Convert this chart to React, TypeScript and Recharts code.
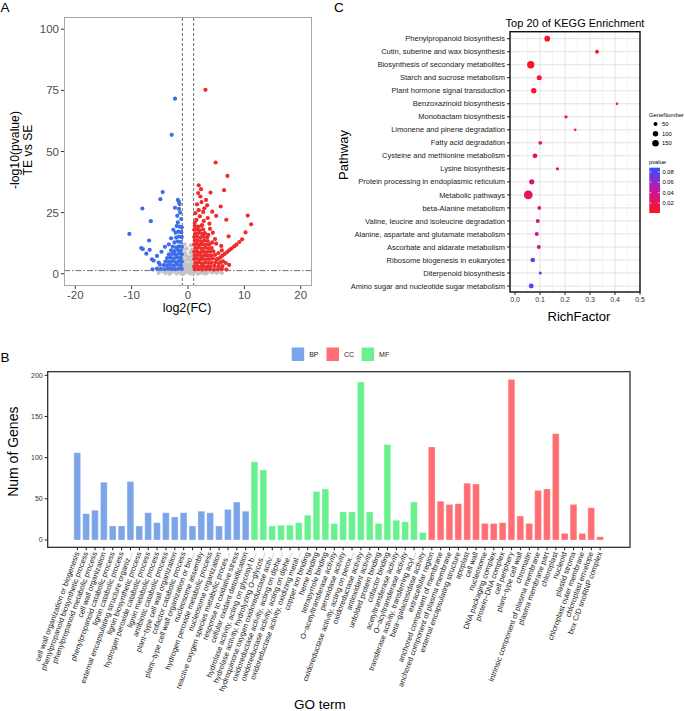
import React from "react";
import {
  ScatterChart,
  Scatter,
  BarChart,
  Bar,
  Cell,
  XAxis,
  YAxis,
  ZAxis,
  CartesianGrid,
  ReferenceLine,
} from "recharts";

const FONT = '"Liberation Sans", Arial, Helvetica, sans-serif';

// ---------- Panel A: volcano (log2FC, -log10 p) ----------
const upPoints: [number, number][] = [
  [3.1, 75.2], [4.9, 45.5], [7.0, 40.0], [1.9, 36.2], [2.3, 34.6], [1.8, 33.0], [4.0, 33.2], [6.4, 34.2],
  [2.2, 31.6], [3.2, 30.2], [2.4, 29.3], [3.4, 28.0], [5.8, 27.5], [1.9, 26.0], [2.7, 25.3], [4.3, 25.4],
  [5.0, 23.7], [10.6, 23.8], [6.8, 22.1], [11.2, 20.2], [10.2, 16.9], [7.2, 15.3], [1.5, 22.0], [2.1, 23.5],
  [1.3, 24.8], [2.8, 21.6], [3.5, 22.8], [1.6, 28.4], [2.9, 26.8], [3.8, 20.5], [1.2, 20.8], [2.5, 19.9],
  [9.6, 14.1], [9.1, 13.0], [8.6, 11.9], [8.2, 11.2], [7.7, 10.3], [7.3, 9.6], [6.9, 8.8], [6.5, 8.1],
  [6.1, 7.4], [5.7, 6.7], [5.3, 6.0], [5.9, 11.4], [4.8, 14.2], [4.4, 16.8], [3.9, 18.4], [6.2, 5.1],
  [6.7, 4.4], [7.3, 3.6], [5.5, 4.3], [5.0, 12.3], [4.3, 12.8], [3.6, 15.9], [6.0, 9.6], [5.4, 8.5],
  [1.2, 19.5], [1.8, 19.3], [2.4, 19.6],
  [1.1, 18.0], [1.6, 18.2], [2.1, 17.8], [2.7, 18.1],
  [1.3, 16.5], [1.9, 16.7], [2.5, 16.3], [3.0, 16.6],
  [1.1, 15.0], [1.6, 15.2], [2.2, 14.8], [2.8, 15.1], [3.4, 14.9],
  [1.2, 13.5], [1.7, 13.7], [2.3, 13.3], [2.9, 13.6], [3.5, 13.4],
  [1.1, 12.0], [1.6, 12.2], [2.1, 11.8], [2.6, 12.1], [3.2, 11.9], [3.8, 12.0],
  [1.3, 10.5], [1.8, 10.7], [2.4, 10.3], [3.0, 10.6], [3.6, 10.4], [4.2, 10.5],
  [1.1, 9.0], [1.6, 9.2], [2.2, 8.8], [2.7, 9.1], [3.3, 8.9], [3.9, 9.0], [4.5, 9.2],
  [1.2, 7.5], [1.7, 7.7], [2.3, 7.3], [2.9, 7.6], [3.5, 7.4], [4.1, 7.5], [4.8, 7.7],
  [1.1, 6.0], [1.6, 6.2], [2.1, 5.8], [2.6, 6.1], [3.2, 5.9], [3.8, 6.0], [4.4, 6.2], [5.1, 5.9],
  [1.3, 4.5], [1.8, 4.7], [2.4, 4.3], [3.0, 4.6], [3.6, 4.4], [4.2, 4.5], [4.9, 4.7], [5.9, 4.9],
  [1.1, 3.0], [1.6, 3.2], [2.2, 2.8], [2.8, 3.1], [3.4, 2.9], [4.0, 3.0], [4.7, 3.2], [5.4, 2.9], [6.1, 3.1],
  [1.2, 1.8], [1.8, 1.9], [2.5, 1.7], [3.2, 1.8], [3.9, 1.9], [4.6, 1.7], [5.3, 1.8], [6.0, 1.9], [6.8, 1.7],
];

const downPoints: [number, number][] = [
  [-2.3, 71.6], [-2.9, 56.8], [-4.5, 33.4], [-4.9, 30.5], [-8.1, 26.7], [-1.8, 30.2], [-1.6, 29.4], [-1.5, 28.5],
  [-2.3, 27.0], [-1.9, 23.7], [-6.6, 21.5], [-1.8, 21.0], [-10.4, 16.3], [-6.9, 13.6], [-8.3, 10.5], [-8.0, 10.1],
  [-6.8, 9.8], [-4.1, 11.0], [-7.4, 8.2], [-6.4, 5.9], [-6.1, 5.4], [-5.5, 7.3], [-1.4, 25.0], [-1.2, 22.4],
  [-2.6, 18.0], [-3.0, 14.5], [-3.4, 12.0], [-2.0, 19.5], [-1.6, 26.5], [-4.7, 9.0], [-5.2, 4.6],
  [-1.1, 19.0], [-1.5, 19.3],
  [-1.2, 17.0], [-1.7, 17.2], [-2.2, 16.8],
  [-1.1, 15.0], [-1.6, 15.2], [-2.1, 14.8],
  [-1.3, 13.0], [-1.8, 13.2], [-2.4, 12.8],
  [-1.1, 11.0], [-1.6, 11.2], [-2.1, 10.8], [-2.7, 11.1],
  [-1.3, 9.5], [-1.8, 9.7], [-2.4, 9.3], [-3.0, 9.6],
  [-1.1, 8.0], [-1.6, 8.2], [-2.2, 7.8], [-2.8, 8.1], [-3.4, 7.9],
  [-1.3, 6.5], [-1.9, 6.7], [-2.5, 6.3], [-3.1, 6.6], [-3.7, 6.4],
  [-1.1, 5.0], [-1.6, 5.2], [-2.2, 4.8], [-2.8, 5.1], [-3.4, 4.9], [-4.0, 5.0],
  [-1.3, 3.5], [-1.9, 3.7], [-2.5, 3.3], [-3.1, 3.6], [-3.7, 3.4], [-4.3, 3.5], [-5.0, 3.7],
  [-1.1, 2.0], [-1.7, 2.1], [-2.3, 1.9], [-2.9, 2.0], [-3.5, 2.1], [-4.1, 1.9], [-4.8, 2.0], [-5.5, 2.1], [-6.3, 1.8],
];

const nsPoints: [number, number][] = [
  [-0.6, 12.0], [0.5, 11.6], [-0.8, 10.0], [-0.2, 10.3], [0.7, 9.8], [-0.5, 8.5], [0.4, 8.7], [0.9, 8.3],
  [-0.9, 7.0], [-0.3, 7.2], [0.3, 6.8], [0.8, 7.1], [-0.7, 5.5], [-0.1, 5.7], [0.5, 5.4], [-0.9, 4.0],
  [-0.4, 4.2], [0.2, 3.9], [0.7, 4.1], [-0.8, 2.8], [-0.3, 3.0], [0.3, 2.7], [0.8, 2.9], [-1.5, 1.2],
  [-0.6, 1.8], [0.0, 1.9], [0.6, 1.7], [1.4, 1.1],
  [-4.5, 1.0], [-3.5, 0.9], [-2.6, 1.1], [-1.8, 0.8], [-1.0, 1.0], [-0.4, 0.9], [0.3, 1.1], [1.1, 0.8],
  [1.9, 1.0], [2.8, 0.9], [3.7, 1.1], [4.6, 0.8], [5.5, 1.0],
  [-5.2, 0.4], [-4.0, 0.3], [-3.0, 0.5], [-2.1, 0.4], [-1.3, 0.3], [-0.5, 0.5], [0.2, 0.4], [0.9, 0.3],
  [1.6, 0.5], [2.4, 0.4], [3.3, 0.3], [4.2, 0.5], [5.1, 0.4], [6.0, 0.3],
  [-3.3, 0.05], [-2.0, 0.1], [-0.8, 0.0], [0.5, 0.1], [1.8, 0.0], [3.0, 0.1],
];

const volcanoXTicks = [-20, -10, 0, 10, 20];
const volcanoYTicks = [0, 25, 50, 75, 100];
const fcCutoffs = [-1, 1];
const pCutoff = 1.3;

// ---------- Panel B: GO terms ----------
const bpTerms = [
  "cell wall organization or biogenesis",
  "phenylpropanoid biosynthetic process",
  "phenylpropanoid metabolic process",
  "cell wall organization",
  "phenylpropanoid catabolic process",
  "lignin catabolic process",
  "external encapsulating structure organiz...",
  "lignin biosynthetic process",
  "hydrogen peroxide catabolic process",
  "lignin metabolic process",
  "antibiotic catabolic process",
  "plant\u2212type cell wall organization",
  "cofactor catabolic process",
  "plant\u2212type cell wall organization or bio...",
  "nucleosome assembly",
  "hydrogen peroxide metabolic process",
  "nucleosome organization",
  "reactive oxygen species metabolic proces...",
  "response to oxidative stress",
  "cellular oxidant detoxification",
];
const bpCounts = [106, 32, 36, 70, 17, 17, 71, 17, 33, 21, 33, 28, 33, 17, 35, 33, 17, 37, 46, 35];

const mfTerms = [
  "hydrolase activity, acting on glycosyl b...",
  "hydrolase activity, hydrolyzing O\u2212glycos...",
  "hydroquinone:oxygen oxidoreductase activ...",
  "oxidoreductase activity, acting on diphe...",
  "oxidoreductase activity, acting on diphe...",
  "oxidoreductase activity, oxidizing metal...",
  "copper ion binding",
  "heme binding",
  "tetrapyrrole binding",
  "O\u2212acetyltransferase activity",
  "peroxidase activity",
  "oxidoreductase activity, acting on perox...",
  "oxidoreductase activity",
  "antioxidant activity",
  "unfolded protein binding",
  "cofactor binding",
  "acetyltransferase activity",
  "O\u2212acyltransferase activity",
  "transferase activity, transferring acyl...",
  "beta\u2212galactosidase activity",
];
const mfCounts = [95, 85, 17, 18, 18, 21, 30, 59, 62, 20, 34, 34, 192, 34, 20, 116, 24, 22, 46, 9];

const ccTerms = [
  "extracellular region",
  "anchored component of membrane",
  "anchored component of plasma membrane",
  "external encapsulating structure",
  "apoplast",
  "cell wall",
  "nucleosome",
  "DNA packaging complex",
  "protein\u2212DNA complex",
  "cell periphery",
  "plant\u2212type cell wall",
  "chromatin",
  "intrinsic component of plasma membrane",
  "plasma membrane part",
  "chloroplast",
  "nucleoid",
  "plastid stroma",
  "chloroplast outer membrane",
  "chloroplast envelope",
  "box C/D snoRNP complex",
];
const ccCounts = [113, 47, 43, 44, 69, 68, 20, 20, 21, 195, 29, 20, 60, 62, 129, 8, 43, 8, 39, 4];

const goGroups = ["BP", "CC", "MF"];
const goColors: Record<string, string> = { BP: "#7BA5E8", CC: "#FF6E73", MF: "#69F08F" };
const goYTicks = [0, 50, 100, 150, 200];

// ---------- Panel C: KEGG ----------
const pathways = [
  "Phenylpropanoid biosynthesis",
  "Cutin, suberine and wax biosynthesis",
  "Biosynthesis of secondary metabolites",
  "Starch and sucrose metabolism",
  "Plant hormone signal transduction",
  "Benzoxazinoid biosynthesis",
  "Monobactam biosynthesis",
  "Limonene and pinene degradation",
  "Fatty acid degradation",
  "Cysteine and methionine metabolism",
  "Lysine biosynthesis",
  "Protein processing in endoplasmic reticulum",
  "Metabolic pathways",
  "beta-Alanine metabolism",
  "Valine, leucine and isoleucine degradation",
  "Alanine, aspartate and glutamate metabolism",
  "Ascorbate and aldarate metabolism",
  "Ribosome biogenesis in eukaryotes",
  "Diterpenoid biosynthesis",
  "Amino sugar and nucleotide sugar metabolism",
];
const richFactor = [0.129, 0.328, 0.063, 0.097, 0.075, 0.408, 0.204, 0.241, 0.101, 0.08, 0.17, 0.067, 0.053, 0.097, 0.091, 0.087, 0.095, 0.071, 0.101, 0.065];
const geneNumber = [110, 45, 187, 85, 95, 14, 30, 16, 45, 75, 28, 90, 270, 45, 50, 50, 50, 70, 25, 75];
const pValue = [0.003, 0.004, 0.002, 0.004, 0.005, 0.006, 0.01, 0.01, 0.012, 0.013, 0.016, 0.03, 0.025, 0.033, 0.038, 0.042, 0.037, 0.072, 0.082, 0.079];
const richTicks = [0, 0.1, 0.2, 0.3, 0.4, 0.5];
const richMinor = [0.05, 0.15, 0.25, 0.35, 0.45];
const sizeLegend = [50, 100, 150];
const pLegend = [0.08, 0.06, 0.04, 0.02];

const P_MIN = 0.001;
const P_MAX = 0.088;
const Z_DOMAIN = [0, 300];
const Z_RANGE = [1.7, 66.8];

const colorStops = [
  [255, 20, 30],
  [200, 20, 160],
  [50, 80, 255],
];
const pColor = (p: number) => {
  const t = Math.min(1, Math.max(0, (p - P_MIN) / (P_MAX - P_MIN)));
  const seg = t < 0.5 ? 0 : 1;
  const lt = seg === 0 ? t / 0.5 : (t - 0.5) / 0.5;
  const a = colorStops[seg];
  const b = colorStops[seg + 1];
  const c = a.map((v, i) => Math.round(v + (b[i] - v) * lt));
  return `rgb(${c[0]},${c[1]},${c[2]})`;
};
const dotRadius = (n: number) => {
  const area = Z_RANGE[0] + ((Z_RANGE[1] - Z_RANGE[0]) * (n - Z_DOMAIN[0])) / (Z_DOMAIN[1] - Z_DOMAIN[0]);
  return Math.sqrt(area / Math.PI);
};

const toXY = (pts: [number, number][]) => pts.map(([x, y]) => ({ x, y }));

const dot = (color: string) => (p: any) => <circle cx={p.cx} cy={p.cy} r={2.1} fill={color} />;

const VolcanoChart = () => {
  const tick = { fontSize: 11.5, fill: "#4d4d4d", fontFamily: FONT };
  return (
    <ScatterChart width={330} height={330} margin={{ top: 17, right: 18, bottom: 14, left: 30 }}>
      <XAxis
        type="number"
        dataKey="x"
        domain={[-22, 22]}
        ticks={volcanoXTicks}
        allowDataOverflow
        axisLine={false}
        tickSize={3}
        tickLine={{ stroke: "#333" }}
        tick={tick}
        height={30}
      />
      <YAxis
        type="number"
        dataKey="y"
        domain={[-5, 105]}
        ticks={volcanoYTicks}
        allowDataOverflow
        axisLine={false}
        tickSize={3}
        tickLine={{ stroke: "#333" }}
        tick={tick}
        width={34}
      />
      <Scatter data={toXY(nsPoints)} shape={dot("#C4C4C4")} isAnimationActive={false} />
      <Scatter data={toXY(downPoints)} shape={dot("#3D6EE8")} isAnimationActive={false} />
      <Scatter data={toXY(upPoints)} shape={dot("#EE2C2C")} isAnimationActive={false} />
      {fcCutoffs.map((v) => (
        <ReferenceLine key={v} x={v} stroke="#4a4a4a" strokeWidth={0.8} strokeDasharray="3 2" />
      ))}
      <ReferenceLine y={pCutoff} stroke="#4a4a4a" strokeWidth={0.8} strokeDasharray="6 2 1.5 2" />
    </ScatterChart>
  );
};

const PathwayTick = (props: any) => {
  const { x, y, payload } = props;
  return (
    <text x={x} y={y} textAnchor="end" dy="0.35em" fontSize={7.5} fill="#222" fontFamily={FONT}>
      {payload.value}
    </text>
  );
};

const KeggChart = () => {
  const data = pathways.map((name, i) => ({
    pathway: name,
    rich: richFactor[i],
    genes: geneNumber[i],
    p: pValue[i],
  }));
  return (
    <ScatterChart width={355} height={330} margin={{ top: 31.7, right: 45, bottom: 18, left: 8 }}>
      <CartesianGrid stroke="#e2e2e2" strokeWidth={1} />
      {richMinor.map((v) => (
        <ReferenceLine key={v} x={v} stroke="#eeeeee" strokeWidth={0.7} />
      ))}
      <XAxis
        type="number"
        dataKey="rich"
        domain={[-0.02, 0.5]}
        ticks={richTicks}
        allowDataOverflow
        axisLine={false}
        tickSize={3}
        tickLine={{ stroke: "#222" }}
        tick={{ fontSize: 7, fill: "#333", fontFamily: FONT }}
        tickFormatter={(v: number) => v.toFixed(1)}
        height={20}
      />
      <YAxis
        type="category"
        dataKey="pathway"
        scale="point"
        reversed
        interval={0}
        padding={{ top: 7, bottom: 6 }}
        allowDuplicatedCategory={false}
        axisLine={false}
        tickSize={3}
        tickLine={{ stroke: "#222" }}
        tick={<PathwayTick />}
        width={172}
      />
      <ZAxis type="number" dataKey="genes" domain={Z_DOMAIN} range={Z_RANGE} />
      <Scatter data={data} isAnimationActive={false}>
        {data.map((d) => (
          <Cell key={d.pathway} fill={pColor(d.p)} />
        ))}
      </Scatter>
    </ScatterChart>
  );
};

const GoTick = (props: any) => {
  const { x, y, payload } = props;
  return (
    <text
      x={x}
      y={y}
      transform={`rotate(-70, ${x}, ${y})`}
      textAnchor="end"
      dy="0.3em"
      fontSize={7.5}
      fill="#222"
      fontFamily={FONT}
    >
      {payload.value}
    </text>
  );
};

const GoChart = () => {
  const data = [
    ...bpTerms.map((t, i) => ({ term: t, count: bpCounts[i], group: "BP" })),
    ...mfTerms.map((t, i) => ({ term: t, count: mfCounts[i], group: "MF" })),
    ...ccTerms.map((t, i) => ({ term: t, count: ccCounts[i], group: "CC" })),
  ];
  return (
    <BarChart width={685} height={351} data={data} margin={{ top: 11.7, right: 55, bottom: 10, left: 20 }}>
      <XAxis
        dataKey="term"
        interval={0}
        tick={<GoTick />}
        tickSize={3}
        tickLine={{ stroke: "#222" }}
        axisLine={false}
        height={153.7}
        padding={{ left: 25.2, right: 25.4 }}
      />
      <YAxis
        type="number"
        domain={[-8.9, 204.4]}
        ticks={goYTicks}
        allowDataOverflow
        axisLine={false}
        tickSize={3}
        tickLine={{ stroke: "#222" }}
        tick={{ fontSize: 7, fill: "#333", fontFamily: FONT }}
        width={27.7}
      />
      <Bar dataKey="count" barSize={6.7} isAnimationActive={false}>
        {data.map((d, i) => (
          <Cell key={i} fill={goColors[d.group]} stroke="#ffffff" strokeOpacity={0.45} strokeWidth={0.6} />
        ))}
      </Bar>
    </BarChart>
  );
};

const Overlay = () => {
  const barTop = 167.7;
  const barH = 45.3;
  const pY = (v: number) => barTop + barH - ((v - P_MIN) / (P_MAX - P_MIN)) * barH;
  const sizeY = [124, 133.7, 143.3];
  const legendX = [291.7, 326.5, 361.6];
  return (
    <svg
      width={685}
      height={711}
      style={{ position: "absolute", left: 0, top: 0, pointerEvents: "none" }}
      fontFamily={FONT}
    >
      <defs>
        <linearGradient id="pgrad" x1="0" y1="1" x2="0" y2="0">
          {colorStops.map((c, i) => (
            <stop key={i} offset={`${i * 50}%`} stopColor={`rgb(${c[0]},${c[1]},${c[2]})`} />
          ))}
        </linearGradient>
      </defs>

      {/* A */}
      <text x={0.5} y={12} fontSize={13.5} fill="#000">A</text>
      <rect x={64.5} y={17.5} width={247} height={268} fill="none" stroke="#a8a8a8" strokeWidth={1} />
      <text transform="translate(19,150) rotate(-90)" textAnchor="middle" fontSize={12.2} fill="#000">
        -log10(pvalue)
      </text>
      <text transform="translate(31.5,150) rotate(-90)" textAnchor="middle" fontSize={12.2} fill="#000">
        TE vs SE
      </text>
      <text x={187} y={312} textAnchor="middle" fontSize={12.5} fill="#000">log2(FC)</text>

      {/* C */}
      <text x={334} y={11.7} fontSize={13.5} fill="#000">C</text>
      <text x={575} y={26.5} textAnchor="middle" fontSize={11} fill="#000">Top 20 of KEGG Enrichment</text>
      <rect x={510} y={31.7} width={130} height={260.3} fill="none" stroke="#111" strokeWidth={1.4} />
      <text transform="translate(347.5,155) rotate(-90)" textAnchor="middle" fontSize={13} fill="#000">
        Pathway
      </text>
      <text x={579} y={320.5} textAnchor="middle" fontSize={13} fill="#000">RichFactor</text>
      <text x={649} y={116.5} fontSize={5.8} fill="#000">GeneNumber</text>
      {sizeLegend.map((n, i) => (
        <g key={n}>
          <circle cx={655.5} cy={sizeY[i]} r={dotRadius(n)} fill="#000" />
          <text x={662} y={sizeY[i] + 2} fontSize={5.8} fill="#000">{n}</text>
        </g>
      ))}
      <text x={649} y={163.5} fontSize={5.8} fill="#000">pvalue</text>
      <rect x={649.3} y={barTop} width={10.7} height={barH} fill="url(#pgrad)" />
      {pLegend.map((v) => (
        <g key={v}>
          <line x1={649.3} x2={651.5} y1={pY(v)} y2={pY(v)} stroke="#fff" strokeWidth={0.6} />
          <line x1={657.8} x2={660} y1={pY(v)} y2={pY(v)} stroke="#fff" strokeWidth={0.6} />
          <text x={662.5} y={pY(v) + 2} fontSize={5.8} fill="#000">{v.toFixed(2)}</text>
        </g>
      ))}

      {/* B */}
      <text x={0.5} y={361.5} fontSize={13.5} fill="#000">B</text>
      {goGroups.map((g, i) => (
        <g key={g}>
          <rect x={legendX[i]} y={347.5} width={12.5} height={13.5} fill={goColors[g]} />
          <text x={legendX[i] + 17.5} y={357} fontSize={7} fill="#222">{g}</text>
        </g>
      ))}
      <rect x={47.7} y={371.7} width={582.3} height={175.6} fill="none" stroke="#222" strokeWidth={1.2} />
      <text transform="translate(18.3,451.7) rotate(-90)" textAnchor="middle" fontSize={14} fill="#000">
        Num of Genes
      </text>
      <text x={320} y={709} textAnchor="middle" fontSize={13.5} fill="#000">GO term</text>
    </svg>
  );
};

export default function App() {
  return (
    <div
      style={{
        position: "absolute",
        left: 0,
        top: 0,
        width: 685,
        height: 711,
        background: "#fff",
        fontFamily: FONT,
        overflow: "hidden",
      }}
    >
      <div style={{ position: "absolute", left: 0, top: 0 }}>
        <VolcanoChart />
      </div>
      <div style={{ position: "absolute", left: 330, top: 0 }}>
        <KeggChart />
      </div>
      <div style={{ position: "absolute", left: 0, top: 360 }}>
        <GoChart />
      </div>
      <Overlay />
    </div>
  );
}
